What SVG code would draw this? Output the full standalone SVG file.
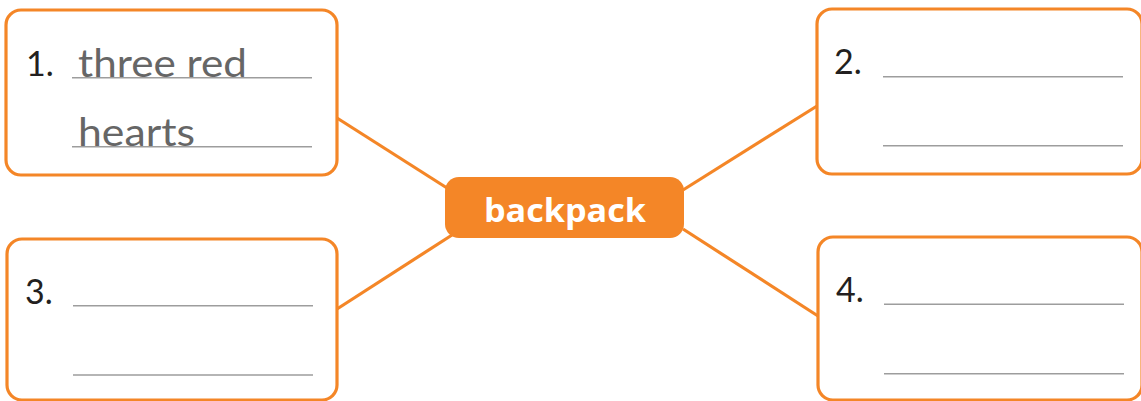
<svg xmlns="http://www.w3.org/2000/svg" width="1141" height="401" viewBox="0 0 1141 401">
<style>
.box{fill:#fff;stroke:#F48627;stroke-width:3.2}
.conn{stroke:#F48627;stroke-width:3.2;fill:none}
.rule{stroke:#9d9d9d;stroke-width:1.6}
.num{font-family:Lato,"Liberation Sans",sans-serif;font-size:34px;fill:#231f20}
.hand{font-family:Lato,"Liberation Sans",sans-serif;font-size:39px;fill:#666}
.center{fill:#F48627}
.ctext{font-family:"Open Sans","Liberation Sans",sans-serif;font-weight:bold;font-size:33px;fill:#fff}
</style>
<rect width="1141" height="401" fill="#fff"/>
<g id="connectors">
<line class="conn" x1="337" y1="118" x2="447" y2="188"/>
<line class="conn" x1="683" y1="190" x2="817" y2="106"/>
<line class="conn" x1="452" y1="235" x2="337" y2="309"/>
<line class="conn" x1="683" y1="229" x2="818" y2="316"/>
</g>
<g id="node1">
<rect class="box" x="6" y="10" width="331" height="165" rx="15"/>
<text class="num" x="26" y="76">1.</text>
<text class="hand" x="78" y="77" textLength="169" lengthAdjust="spacingAndGlyphs">three red</text>
<text class="hand" x="78" y="146" textLength="117" lengthAdjust="spacingAndGlyphs">hearts</text>
<line class="rule" x1="72" y1="77.7" x2="312" y2="77.7"/>
<line class="rule" x1="72" y1="146.7" x2="312" y2="146.7"/>
</g>
<g id="node2">
<rect class="box" x="817" y="9" width="325" height="165" rx="15"/>
<text class="num" x="834" y="74">2.</text>
<line class="rule" x1="883" y1="76.7" x2="1123" y2="76.7"/>
<line class="rule" x1="883" y1="145.7" x2="1123" y2="145.7"/>
</g>
<g id="node3">
<rect class="box" x="7" y="239" width="330" height="161" rx="15"/>
<text class="num" x="25" y="304">3.</text>
<line class="rule" x1="73" y1="305.7" x2="313" y2="305.7"/>
<line class="rule" x1="73" y1="375" x2="313" y2="375"/>
</g>
<g id="node4">
<rect class="box" x="818" y="237" width="324" height="163" rx="15"/>
<text class="num" x="836" y="301.7">4.</text>
<line class="rule" x1="884" y1="304.3" x2="1124" y2="304.3"/>
<line class="rule" x1="884" y1="373.7" x2="1124" y2="373.7"/>
</g>
<g id="center">
<rect class="center" x="445" y="177" width="239" height="61" rx="14"/>
<text class="ctext" x="565" y="222" text-anchor="middle" textLength="162" lengthAdjust="spacingAndGlyphs">backpack</text>
</g>
</svg>
